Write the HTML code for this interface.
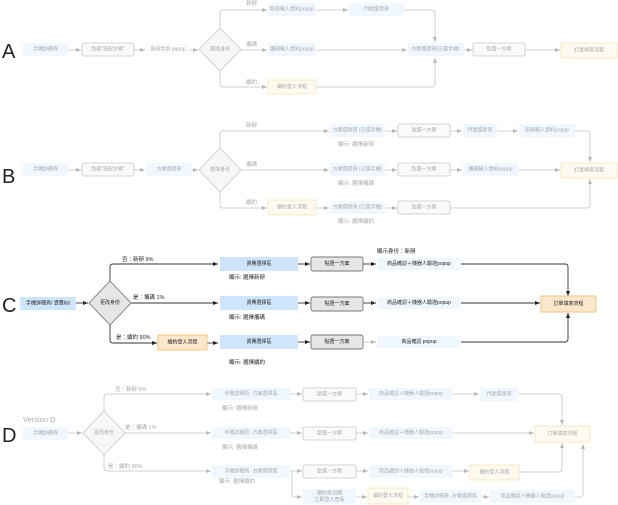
<!DOCTYPE html>
<html><head><meta charset="utf-8"><style>
html,body{margin:0;padding:0;background:#fff;}
svg{display:block;font-family:"Liberation Sans","Noto Sans CJK TC",sans-serif;}
.f text{fill:#aaa;}
.t{font-size:5px;text-anchor:middle;dominant-baseline:central;}
.l{font-size:5.5px;}
.fl{fill:none;stroke:#c4c4c4;stroke-width:0.8;}
.sl{fill:none;stroke:#333;stroke-width:0.9;}
.bb{fill:#f0f7fe;stroke:none;}
.gb{fill:#fafafa;stroke:#c8c8c8;stroke-width:0.8;}
.ob{fill:#fffaf0;stroke:#fae3b8;stroke-width:0.8;}
.big{font-size:20px;fill:#222;}
</style></head><body>
<svg width="618" height="505" viewBox="0 0 618 505" xmlns="http://www.w3.org/2000/svg">
<defs>
<marker id="af" markerWidth="6" markerHeight="6" refX="5" refY="3" orient="auto" markerUnits="userSpaceOnUse"><path d="M0,1 L5,3 L0,5z" fill="#b8b8b8"/></marker>
<marker id="as" markerWidth="6" markerHeight="6" refX="5" refY="3" orient="auto" markerUnits="userSpaceOnUse"><path d="M0,1 L5,3 L0,5z" fill="#222"/></marker>
</defs>

<text class="big" x="2" y="58">A</text>
<text class="big" x="2" y="183">B</text>
<text class="big" x="2" y="312">C</text>
<text class="big" x="2" y="442">D</text>

<!-- ===== A ===== -->
<g class="f">
<path class="fl" d="M68,50 H81" marker-end="url(#af)"/>
<path class="fl" d="M134,50 H145" marker-end="url(#af)"/>
<path class="fl" d="M190,50 H198" marker-end="url(#af)"/>
<path class="fl" d="M220,28 V13 Q220,10 223,10 H267" marker-end="url(#af)"/>
<path class="fl" d="M241,50 H267" marker-end="url(#af)"/>
<path class="fl" d="M220,71 V84 Q220,87 223,87 H267" marker-end="url(#af)"/>
<path class="fl" d="M316,10 H348" marker-end="url(#af)"/>
<path class="fl" d="M404,10 H432 Q435,10 435,13 V42" marker-end="url(#af)"/>
<path class="fl" d="M316,50 H407" marker-end="url(#af)"/>
<path class="fl" d="M316,87 H432 Q435,87 435,84 V58" marker-end="url(#af)"/>
<path class="fl" d="M463,50 H472" marker-end="url(#af)"/>
<path class="fl" d="M525,50 H560" marker-end="url(#af)"/>
<rect class="bb" x="23" y="43" width="45" height="13"/><text class="t" x="45.5" y="49.5">手機詳細頁</text>
<rect class="gb" x="82" y="43" width="52" height="13" rx="2"/><text class="t" x="108" y="49.5">點選"搭配方案"</text>
<rect x="146" y="43" width="44" height="13" fill="#fbfcfe"/><text class="t" x="168" y="49.5">身份判別 popup</text>
<path d="M220,28 L241,49.5 L220,71 L199,49.5z" fill="#f7f7f7" stroke="#c8c8c8" stroke-width="0.8"/><text class="t" x="220" y="49.5">選擇身份</text>
<text class="l" x="246" y="5">新辦</text>
<text class="l" x="246" y="46">攜碼</text>
<text class="l" x="246" y="84">續約</text>
<rect class="bb" x="268" y="3" width="48" height="13"/><text class="t" x="292" y="9.5">新辦輸入資料popup</text>
<rect class="bb" x="268" y="43" width="48" height="13"/><text class="t" x="292" y="49.5">攜碼輸入資料popup</text>
<rect class="ob" x="268" y="80" width="48" height="14"/><text class="t" x="292" y="87">續約登入流程</text>
<rect class="bb" x="349" y="3" width="55" height="13"/><text class="t" x="376.5" y="9.5">門號選擇頁</text>
<rect class="bb" x="408" y="43" width="55" height="13"/><text class="t" x="435.5" y="49.5">方案選擇頁(已選手機)</text>
<rect class="gb" x="473" y="43" width="52" height="13" rx="2"/><text class="t" x="499" y="49.5">點選一方案</text>
<rect class="ob" x="561" y="43" width="56" height="15"/><text class="t" x="589" y="50.5">訂單填寫流程</text>
</g>

<!-- ===== B ===== -->
<g class="f">
<path class="fl" d="M68,170 H81" marker-end="url(#af)"/>
<path class="fl" d="M134,170 H145" marker-end="url(#af)"/>
<path class="fl" d="M192,170 H198" marker-end="url(#af)"/>
<path class="fl" d="M220,148 V134 Q220,131 223,131 H329" marker-end="url(#af)"/>
<path class="fl" d="M241,170 H329" marker-end="url(#af)"/>
<path class="fl" d="M220,192 V205 Q220,208 223,208 H267" marker-end="url(#af)"/>
<path class="fl" d="M316,208 H329" marker-end="url(#af)"/>
<path class="fl" d="M385,131 H397" marker-end="url(#af)"/>
<path class="fl" d="M385,170 H397" marker-end="url(#af)"/>
<path class="fl" d="M385,208 H397" marker-end="url(#af)"/>
<path class="fl" d="M450,131 H462" marker-end="url(#af)"/>
<path class="fl" d="M497,131 H518" marker-end="url(#af)"/>
<path class="fl" d="M575,131 H587 Q590,131 590,134 V162" marker-end="url(#af)"/>
<path class="fl" d="M450,170 H462" marker-end="url(#af)"/>
<path class="fl" d="M518,170 H560" marker-end="url(#af)"/>
<path class="fl" d="M450,208 H587 Q590,208 590,205 V179" marker-end="url(#af)"/>
<rect class="bb" x="23" y="163" width="45" height="13"/><text class="t" x="45.5" y="169.5">手機詳細頁</text>
<rect class="gb" x="82" y="163" width="52" height="13" rx="2"/><text class="t" x="108" y="169.5">點選"搭配方案"</text>
<rect class="bb" x="146" y="163" width="46" height="13"/><text class="t" x="169" y="169.5">方案選擇頁</text>
<path d="M220,148 L241,170 L220,192 L199,170z" fill="#f7f7f7" stroke="#c8c8c8" stroke-width="0.8"/><text class="t" x="220" y="170">選擇身份</text>
<text class="l" x="246" y="127">新辦</text>
<text class="l" x="246" y="166">攜碼</text>
<text class="l" x="246" y="204">續約</text>
<rect class="ob" x="268" y="200" width="48" height="15"/><text class="t" x="292" y="207.5">續約登入流程</text>
<rect class="bb" x="330" y="124" width="55" height="13"/><text class="t" x="357.5" y="130.5">方案選擇頁 (已選手機)</text>
<rect class="bb" x="330" y="163" width="55" height="13"/><text class="t" x="357.5" y="169.5">方案選擇頁 (已選手機)</text>
<rect class="bb" x="330" y="201" width="55" height="13"/><text class="t" x="357.5" y="207.5">方案選擇頁 (已選手機)</text>
<text class="l" x="338" y="146">顯示: 選擇新辦</text>
<text class="l" x="338" y="185">顯示: 選擇攜碼</text>
<text class="l" x="338" y="223">顯示: 選擇續約</text>
<rect class="gb" x="398" y="124" width="52" height="13" rx="2"/><text class="t" x="424" y="130.5">點選一方案</text>
<rect class="gb" x="398" y="163" width="52" height="13" rx="2"/><text class="t" x="424" y="169.5">點選一方案</text>
<rect class="gb" x="398" y="201" width="52" height="13" rx="2"/><text class="t" x="424" y="207.5">點選一方案</text>
<rect class="bb" x="463" y="124" width="34" height="13"/><text class="t" x="480" y="130.5">門號選擇頁</text>
<rect class="bb" x="519" y="124" width="56" height="13"/><text class="t" x="547" y="130.5">新辦輸入資料popup</text>
<rect class="bb" x="463" y="163" width="55" height="13"/><text class="t" x="490.5" y="169.5">攜碼輸入資料popup</text>
<rect class="ob" x="561" y="163" width="56" height="15"/><text class="t" x="589" y="170.5">訂單填寫流程</text>
</g>

<!-- ===== C ===== -->
<g>
<path class="sl" d="M76,303 H88" marker-end="url(#as)"/>
<path class="sl" d="M110,281 V267 Q110,264 113,264 H218" marker-end="url(#as)"/>
<path class="sl" d="M131,303 H218" marker-end="url(#as)"/>
<path class="sl" d="M110,325 V340 Q110,343 113,343 H157" marker-end="url(#as)"/>
<path class="sl" d="M207,343 H218" marker-end="url(#as)"/>
<path class="sl" d="M298,264 H310" marker-end="url(#as)"/>
<path class="sl" d="M298,303 H310" marker-end="url(#as)"/>
<path class="sl" d="M298,342 H310" marker-end="url(#as)"/>
<path class="sl" d="M363,264 H376" marker-end="url(#as)"/>
<path class="sl" d="M363,303 H376" marker-end="url(#as)"/>
<path d="M363,342 H376" fill="none" stroke="#bbb" stroke-width="0.8" marker-end="url(#af)"/>
<path class="sl" d="M461,264 H565 Q568,264 568,267 V296" marker-end="url(#as)"/>
<path class="sl" d="M461,303 H540" marker-end="url(#as)"/>
<path class="sl" d="M461,342 H565 Q568,342 568,339 V313" marker-end="url(#as)"/>
<rect x="20" y="297" width="56" height="13" fill="#cfe5fb"/><text class="t" x="48" y="303.5" fill="#222">手機詳細頁/ 資費list</text>
<path d="M110,281 L131,303 L110,325 L89,303z" fill="#e6e6e6" stroke="#777" stroke-width="0.9"/><text class="t" x="110" y="303" fill="#222">更改身份</text>
<text class="l" x="122" y="261" fill="#222">否：新辦  9%</text>
<text class="l" x="133" y="299" fill="#222">是：攜碼  1%</text>
<text class="l" x="116" y="339" fill="#222">是：續約 90%</text>
<rect x="158" y="335" width="49" height="15" fill="#fde7cc" stroke="#f3c46e" stroke-width="0.9"/><text class="t" x="182.5" y="342.5" fill="#222">續約登入流程</text>
<rect x="220" y="257" width="78" height="14" fill="#cfe5fb"/><text class="t" x="259" y="264" fill="#222">資費選擇區</text>
<rect x="220" y="296" width="78" height="14" fill="#cfe5fb"/><text class="t" x="259" y="303" fill="#222">資費選擇區</text>
<rect x="220" y="335" width="78" height="14" fill="#cfe5fb"/><text class="t" x="259" y="342" fill="#222">資費選擇區</text>
<text class="l" x="229" y="279" fill="#222">顯示: 選擇新辦</text>
<text class="l" x="229" y="319" fill="#222">顯示: 選擇攜碼</text>
<text class="l" x="229" y="364" fill="#222">顯示: 選擇續約</text>
<rect x="311" y="257" width="52" height="14" rx="2" fill="#e6e6e6" stroke="#777" stroke-width="0.9"/><text class="t" x="337" y="264" fill="#222">點選一方案</text>
<rect x="311" y="297" width="52" height="14" rx="2" fill="#e6e6e6" stroke="#777" stroke-width="0.9"/><text class="t" x="337" y="304" fill="#222">點選一方案</text>
<rect x="311" y="335" width="52" height="14" rx="2" fill="#e6e6e6" stroke="#777" stroke-width="0.9"/><text class="t" x="337" y="342" fill="#222">點選一方案</text>
<text class="l" x="377" y="253" fill="#222">顯示身份：新辦</text>
<rect x="377" y="258" width="84" height="12" fill="#f0f7fe"/><text class="t" x="419" y="264" fill="#222">商品確認＋機器人驗證popup</text>
<rect x="377" y="297" width="84" height="12" fill="#f0f7fe"/><text class="t" x="419" y="303" fill="#222">商品確認＋機器人驗證popup</text>
<rect x="377" y="336" width="84" height="12" fill="#f0f7fe"/><text class="t" x="419" y="342" fill="#222">商品確認 popup</text>
<rect x="541" y="296" width="55" height="16" fill="#fde7cc" stroke="#f3c46e" stroke-width="0.9"/><text class="t" x="568.5" y="304" fill="#222">訂單填寫流程</text>
</g>

<!-- ===== D ===== -->
<g class="f">
<text x="23" y="422" style="font-size:7.5px" fill="#bbb">Version D</text>
<path class="fl" d="M68,433 H82" marker-end="url(#af)"/>
<path class="fl" d="M104,411 V397 Q104,394 107,394 H211" marker-end="url(#af)"/>
<path class="fl" d="M125,433 H211" marker-end="url(#af)"/>
<path class="fl" d="M104,455 V468 Q104,471 107,471 H211" marker-end="url(#af)"/>
<path class="fl" d="M290,394 H302" marker-end="url(#af)"/>
<path class="fl" d="M290,433 H302" marker-end="url(#af)"/>
<path class="fl" d="M290,471 H302" marker-end="url(#af)"/>
<path class="fl" d="M292,471 V494 Q292,497 295,497 H302" marker-end="url(#af)"/>
<path class="fl" d="M356,394 H368" marker-end="url(#af)"/>
<path class="fl" d="M356,433 H368" marker-end="url(#af)"/>
<path class="fl" d="M356,471 H368" marker-end="url(#af)"/>
<path class="fl" d="M356,497 H367" marker-end="url(#af)"/>
<path class="fl" d="M408,497 H419" marker-end="url(#af)"/>
<path class="fl" d="M481,497 H489" marker-end="url(#af)"/>
<path class="fl" d="M453,394 H479" marker-end="url(#af)"/>
<path class="fl" d="M518,394 H559 Q562,394 562,397 V425" marker-end="url(#af)"/>
<path class="fl" d="M453,433 H534" marker-end="url(#af)"/>
<path class="fl" d="M453,471 H469" marker-end="url(#af)"/>
<path class="fl" d="M519,472 H559 Q562,472 562,469 V443" marker-end="url(#af)"/>
<path class="fl" d="M575,497 H580 Q583,497 583,494 V444" marker-end="url(#af)"/>
<rect class="bb" x="23" y="427" width="45" height="13"/><text class="t" x="45.5" y="433.5">手機詳細頁</text>
<path d="M104,411 L125,433 L104,455 L83,433z" fill="#f7f7f7" stroke="#c8c8c8" stroke-width="0.8"/><text class="t" x="104" y="433">更改身份</text>
<text class="l" x="115" y="391">否：新辦  9%</text>
<text class="l" x="125" y="429">是：攜碼 1%</text>
<text class="l" x="108" y="468">是：續約 90%</text>
<rect class="bb" x="212" y="388" width="78" height="12"/><text class="t" x="251" y="394">手機詳細頁 -方案選擇區</text>
<rect class="bb" x="212" y="427" width="78" height="12"/><text class="t" x="251" y="433">手機詳細頁 -方案選擇區</text>
<rect class="bb" x="212" y="465" width="78" height="13"/><text class="t" x="251" y="471.5">手機詳細頁 -方案選擇區</text>
<text class="l" x="222" y="410">顯示: 選擇新辦</text>
<text class="l" x="222" y="449">顯示: 選擇攜碼</text>
<text class="l" x="219" y="483">顯示: 選擇續約</text>
<rect class="gb" x="303" y="388" width="53" height="13" rx="2"/><text class="t" x="329.5" y="394.5">點選一方案</text>
<rect class="gb" x="303" y="427" width="53" height="13" rx="2"/><text class="t" x="329.5" y="433.5">點選一方案</text>
<rect class="gb" x="303" y="465" width="53" height="13" rx="2"/><text class="t" x="329.5" y="471.5">點選一方案</text>
<rect class="bb" x="303" y="489" width="53" height="15" stroke="#d8e8f8" stroke-width="0.6"/><text class="t" x="329.5" y="493.5">續約更加購</text><text class="t" x="329.5" y="500">立即登入查看</text>
<rect class="bb" x="369" y="388" width="84" height="12"/><text class="t" x="411" y="394">商品確認＋機器人驗證popup</text>
<rect class="bb" x="369" y="427" width="84" height="12"/><text class="t" x="411" y="433">商品確認＋機器人驗證popup</text>
<rect class="bb" x="369" y="465" width="84" height="13"/><text class="t" x="411" y="471.5">商品確認＋機器人驗證popup</text>
<rect class="ob" x="368" y="488" width="40" height="16"/><text class="t" x="388" y="496">續約登入流程</text>
<rect class="bb" x="420" y="490" width="61" height="13"/><text class="t" x="450.5" y="496.5">手機詳細頁 -方案選擇區</text>
<rect class="bb" x="490" y="490" width="85" height="13"/><text class="t" x="532.5" y="496.5">商品確認＋機器人驗證popup</text>
<rect class="bb" x="480" y="388" width="38" height="13"/><text class="t" x="499" y="394.5">門號選擇頁</text>
<rect class="ob" x="470" y="465" width="49" height="15"/><text class="t" x="494.5" y="472.5">續約登入流程</text>
<rect class="ob" x="535" y="426" width="55" height="16"/><text class="t" x="562.5" y="434">訂單填寫流程</text>
</g>
</svg>
</body></html>
